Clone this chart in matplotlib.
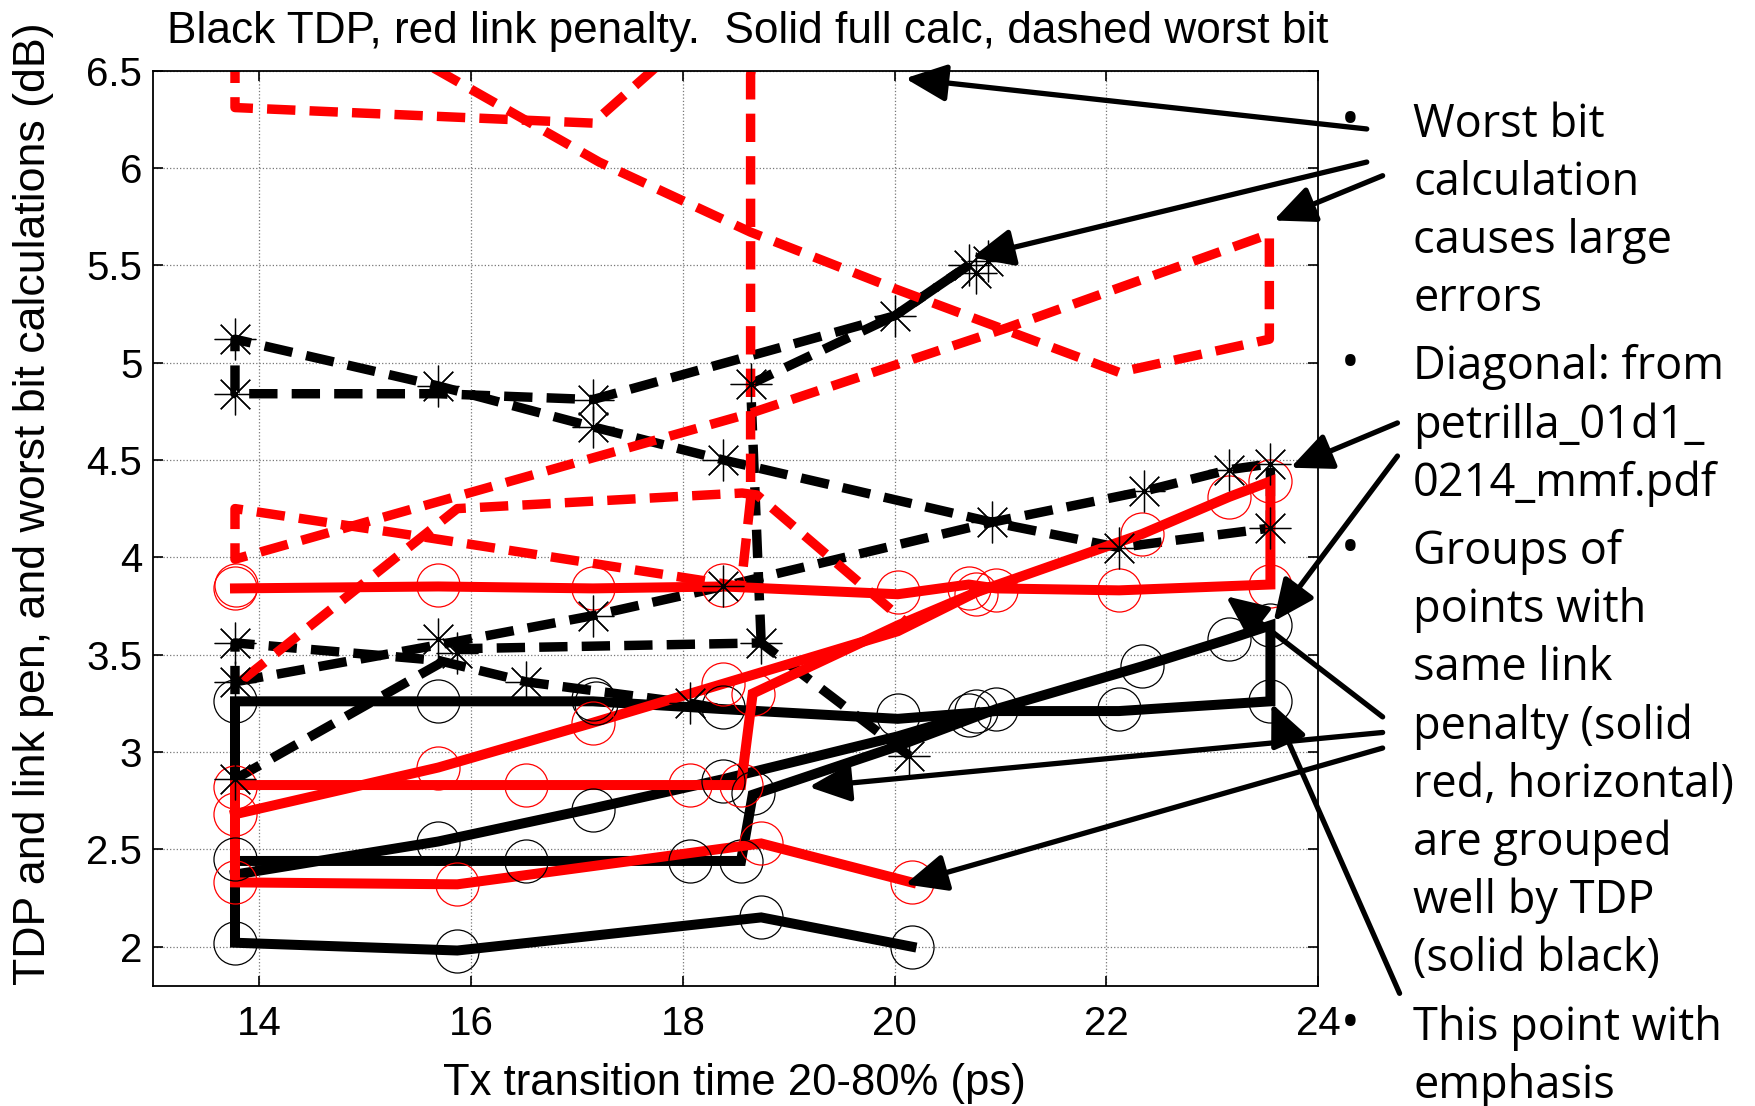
import numpy as np
import matplotlib.pyplot as plt

# TDP full calculation (solid black) paths
tdp_a_x = [20.16, 18.74, 15.87, 13.77, 13.77, 16.52, 18.07, 18.55, 18.66, 20.03, 20.96, 22.34, 23.16, 23.55,
           23.55, 22.12, 20.96, 20.03, 18.38, 17.15, 15.69, 13.77, 13.77]
tdp_a_y = [2.00, 2.15, 1.98, 2.02, 2.44, 2.44, 2.44, 2.44, 2.78, 3.03, 3.22, 3.44, 3.58, 3.65,
           3.26, 3.21, 3.21, 3.17, 3.22, 3.26, 3.26, 3.26, 2.37]
tdp_b_x = [13.77, 15.69, 17.15, 18.38, 20.03, 20.77]
tdp_b_y = [2.37, 2.54, 2.71, 2.86, 3.08, 3.20]

# link penalty full calculation (solid red) paths
pen_a_x = [20.16, 18.74, 15.87, 13.77, 13.77, 16.52, 18.07, 18.55, 18.66, 20.03, 20.77, 22.34, 23.16, 23.55,
           23.55, 22.12, 20.96, 20.70, 20.03, 18.38, 17.15, 15.69, 13.77]
pen_a_y = [2.33, 2.53, 2.32, 2.33, 2.83, 2.83, 2.83, 2.83, 3.30, 3.65, 3.82, 4.12, 4.31, 4.39,
           3.86, 3.83, 3.84, 3.86, 3.81, 3.85, 3.84, 3.85, 3.84]
pen_b_x = [13.77, 15.69, 17.15, 18.38, 20.03, 20.77]
pen_b_y = [2.68, 2.92, 3.15, 3.35, 3.62, 3.82]

# TDP worst bit (dashed black) paths
wtdp_a_x = [13.77, 15.69, 15.87, 18.74, 20.14]
wtdp_a_y = [2.86, 3.45, 3.53, 3.56, 2.98]
wtdp_b_x = [18.74, 18.64, 20.00, 20.70]
wtdp_b_y = [3.56, 4.89, 5.24, 5.50]
wtdp_c_x = [13.77, 13.77, 15.69, 16.52, 18.07, 18.38]
wtdp_c_y = [2.86, 3.56, 3.47, 3.36, 3.25, 3.22]
wtdp_d_x = [13.77, 15.69, 17.15, 18.38, 20.92, 22.36, 23.16, 23.55, 23.55, 22.12, 20.92, 18.38, 17.15,
            15.69, 13.77, 13.77, 15.69, 17.15, 20.00, 20.70]
wtdp_d_y = [3.36, 3.55, 3.70, 3.85, 4.18, 4.34, 4.45, 4.48, 4.15, 4.05, 4.18, 4.50, 4.67,
            4.88, 5.12, 4.84, 4.84, 4.81, 5.24, 5.50]

# link penalty worst bit (dashed red) paths
wpen_a_x = [13.77, 13.77, 17.15, 17.71, 18.00]
wpen_a_y = [6.80, 6.31, 6.23, 6.50, 6.65]
wpen_b_x = [15.30, 17.21, 18.64, 20.00, 22.12, 23.54, 23.54, 21.07, 18.64, 13.77, 13.77, 15.60, 18.55,
            18.64, 18.64, 18.75]
wpen_b_y = [6.62, 6.03, 5.67, 5.38, 4.95, 5.12, 5.66, 5.18, 4.74, 3.99, 4.25, 4.10, 3.85,
            4.30, 6.48, 6.80]
wpen_c_x = [13.84, 15.87, 18.56, 18.70, 20.14]
wpen_c_y = [3.37, 4.25, 4.33, 4.32, 3.65]

# calculated points
tdp_pts_x = [13.77, 15.87, 18.74, 20.16, 13.77, 16.52, 18.07, 18.55, 15.69, 17.15, 18.38, 18.66,
             13.77, 15.69, 17.15, 17.18, 18.38, 20.03, 20.70, 20.77, 20.96, 22.12, 22.34, 23.16, 23.55, 23.55]
tdp_pts_y = [2.02, 1.98, 2.15, 2.00, 2.45, 2.44, 2.44, 2.44, 2.53, 2.70, 2.85, 2.79,
             3.26, 3.26, 3.27, 3.25, 3.23, 3.19, 3.19, 3.21, 3.22, 3.22, 3.44, 3.58, 3.65, 3.26]
pen_pts_x = [13.77, 15.87, 18.74, 20.16, 13.77, 16.52, 18.07, 18.55, 13.77, 15.69, 17.15, 18.38, 18.66,
             13.77, 13.78, 15.69, 17.15, 18.38, 20.03, 20.70, 20.77, 20.96, 22.12, 22.34, 23.16, 23.55, 23.55]
pen_pts_y = [2.33, 2.32, 2.53, 2.33, 2.82, 2.83, 2.83, 2.83, 2.68, 2.92, 3.15, 3.35, 3.30,
             3.84, 3.86, 3.86, 3.84, 3.86, 3.82, 3.84, 3.81, 3.83, 3.83, 4.12, 4.31, 4.39, 3.85]
wtdp_pts_x = [13.77, 13.77, 15.69, 17.15, 17.15, 18.38, 18.64, 20.00, 20.70, 20.77, 20.88, 20.92, 22.12,
              22.36, 23.16, 23.55, 23.55, 13.77, 13.77, 13.77, 15.69, 15.87, 16.52, 17.15, 18.07,
              18.38, 18.74, 20.14]
wtdp_pts_y = [5.12, 4.84, 4.88, 4.81, 4.67, 4.50, 4.89, 5.24, 5.50, 5.46, 5.52, 4.18, 4.05,
              4.34, 4.45, 4.48, 4.15, 3.56, 3.36, 2.86, 3.58, 3.51, 3.36, 3.70, 3.25,
              3.85, 3.56, 2.98]

# annotation arrows: (tail, tip) in data units
arrows = [((24.46, 6.20), (20.10, 6.46)),
          ((24.46, 6.03), (20.73, 5.54)),
          ((24.61, 5.96), (23.58, 5.73)),
          ((24.75, 4.69), (23.74, 4.46)),
          ((24.75, 4.52), (23.58, 3.67)),
          ((24.61, 3.18), (23.13, 3.80)),
          ((24.61, 3.10), (19.19, 2.82)),
          ((24.61, 3.02), (20.10, 2.32)),
          ((24.77, 1.76), (23.56, 3.25))]

notes = [["Worst bit", "calculation", "causes large", "errors"],
         ["Diagonal: from", "petrilla_01d1_", "0214_mmf.pdf"],
         ["Groups of", "points with", "same link", "penalty (solid", "red, horizontal)",
          "are grouped", "well by TDP", "(solid black)"],
         ["This point with", "emphasis"]]

plt.rcParams['font.family'] = ['Liberation Sans', 'DejaVu Sans']

fig = plt.figure(figsize=(17.56, 11.06), dpi=100)
ax = fig.add_axes([0.0874, 0.1089, 0.6632, 0.8273])

dash = (0, (3.0, 1.5))
for xs, ys in [(wtdp_a_x, wtdp_a_y), (wtdp_b_x, wtdp_b_y), (wtdp_c_x, wtdp_c_y), (wtdp_d_x, wtdp_d_y)]:
    ax.plot(xs, ys, color='k', lw=6.8, linestyle=dash)
for xs, ys in [(wpen_a_x, wpen_a_y), (wpen_b_x, wpen_b_y), (wpen_c_x, wpen_c_y)]:
    ax.plot(xs, ys, color='r', lw=6.8, linestyle=dash)
for xs, ys in [(tdp_a_x, tdp_a_y), (tdp_b_x, tdp_b_y)]:
    ax.plot(xs, ys, color='k', lw=7.2, solid_joinstyle='miter')
for xs, ys in [(pen_a_x, pen_a_y), (pen_b_x, pen_b_y)]:
    ax.plot(xs, ys, color='r', lw=7.2, solid_joinstyle='miter')

ax.plot(tdp_pts_x, tdp_pts_y, 'o', ms=31, mfc='none', mec='k', mew=0.9)
ax.plot(pen_pts_x, pen_pts_y, 'o', ms=31, mfc='none', mec='r', mew=0.9)
ax.plot(wtdp_pts_x, wtdp_pts_y, linestyle='none', marker=(8, 2, 0), ms=30, mec='k', mew=0.9)

ax.set_xlim(13, 24)
ax.set_ylim(1.8, 6.5)
ax.set_xticks([14, 16, 18, 20, 22, 24])
ax.set_yticks([2, 2.5, 3, 3.5, 4, 4.5, 5, 5.5, 6, 6.5])
ax.set_yticklabels(['2', '2.5', '3', '3.5', '4', '4.5', '5', '5.5', '6', '6.5'])
ax.grid(True, linestyle=':', color='#777777', lw=0.9)
ax.tick_params(direction='in', top=True, right=True, length=7, width=1.2, labelsize=29)
ax.tick_params(axis='x', pad=14)
ax.tick_params(axis='y', pad=8)
for s in ax.spines.values():
    s.set_linewidth(1.3)

for tail, tip in arrows:
    ax.annotate('', xy=tip, xytext=tail, annotation_clip=False,
                arrowprops=dict(arrowstyle='-|>,head_length=0.6,head_width=0.27', color='k', lw=3.8,
                                mutation_scale=42, shrinkA=0, shrinkB=0))

fig.text(0.426, 0.9615, 'Black TDP, red link penalty.  Solid full calc, dashed worst bit',
         ha='center', va='baseline', fontsize=31.8)
fig.text(0.0191, 0.5443, 'TDP and link pen, and worst bit calculations (dB)',
         rotation=90, ha='center', va='center', fontsize=32.2)
fig.text(0.418, 0.0199, 'Tx transition time 20-80% (ps)', ha='center', va='center', fontsize=31.4)

# bullet notes on the right
step = 58.2
base = 136.6
for block in notes:
    fig.text(0.7688, 1 - (base - 14) / 1106, '\u2022', ha='center', va='center', fontsize=36,
             family=['Open Sans', 'DejaVu Sans'])
    for line in block:
        fig.text(0.8047, 1 - base / 1106, line, ha='left', va='baseline', fontsize=32.5,
                 family=['Open Sans', 'DejaVu Sans'])
        base += step
    base += 10

fig.savefig('out.png', dpi=100)
